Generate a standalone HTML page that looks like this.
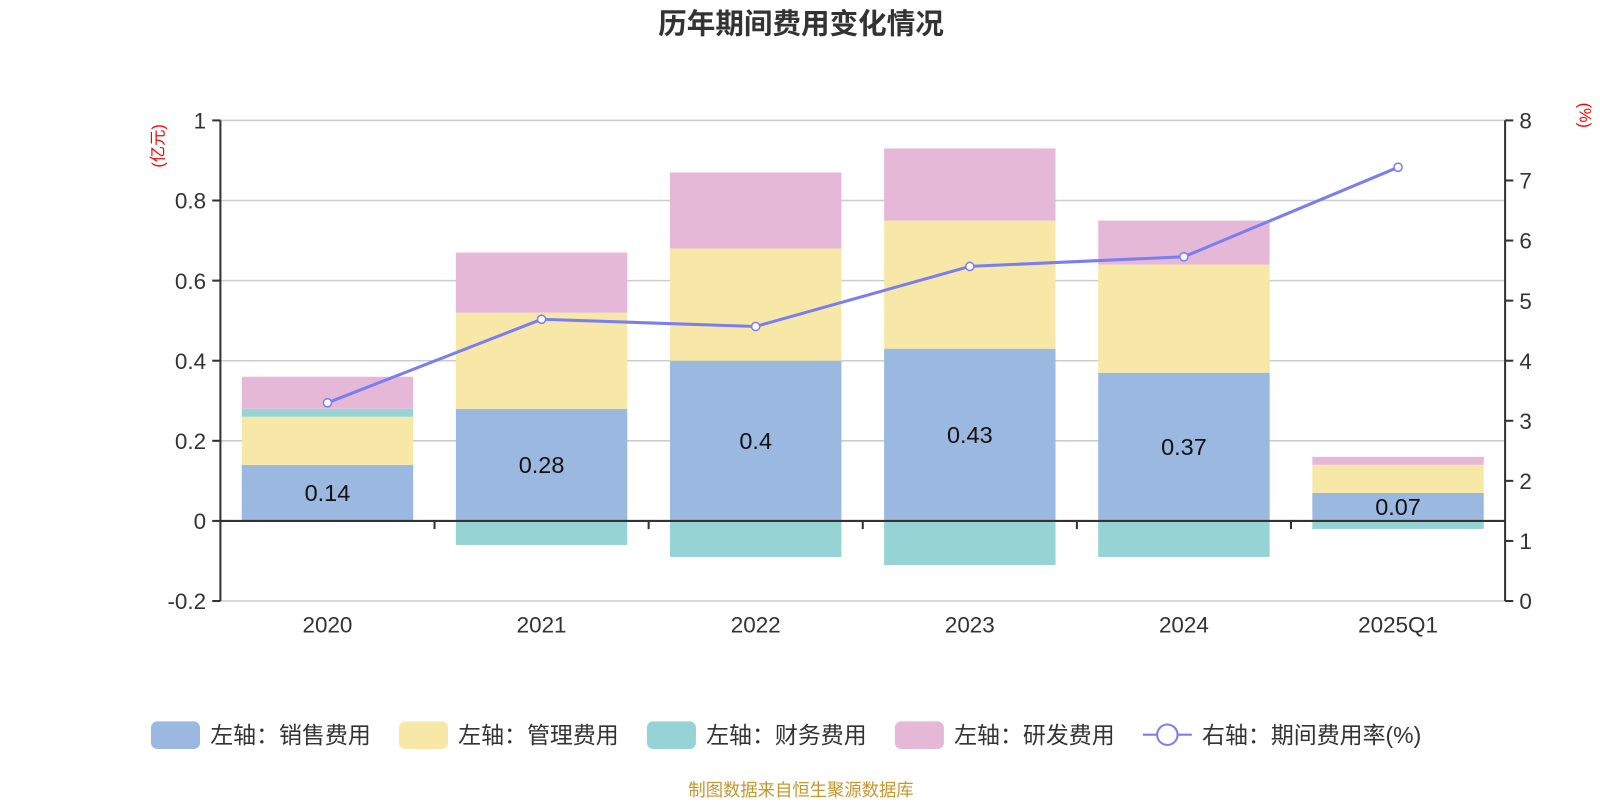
<!DOCTYPE html>
<html><head><meta charset="utf-8"><style>
body{margin:0;background:#fff;font-family:"Liberation Sans","Noto Sans CJK SC",sans-serif}
</style></head><body>
<svg id="c" width="1600" height="800" viewBox="0 0 1568 784" xmlns="http://www.w3.org/2000/svg">
<text x="785" y="33" text-anchor="middle" font-size="28" font-weight="bold" fill="#333" font-family="Liberation Sans,Noto Sans CJK SC,sans-serif">历年期间费用变化情况</text>
<text transform="translate(160,143) rotate(-90)" text-anchor="middle" font-size="16" fill="red" font-family="Liberation Sans,Noto Sans CJK SC,sans-serif">(亿元)</text>
<text transform="translate(1548,113) rotate(90)" text-anchor="middle" font-size="16" fill="red" font-family="Liberation Sans,Noto Sans CJK SC,sans-serif">(%)</text>
<g id="grid"></g><g id="bars"></g><g id="axes"></g><g id="line"></g>
<g id="legend" font-size="22.5" fill="#333" font-family="Liberation Sans,Noto Sans CJK SC,sans-serif"></g>
<text x="785" y="780" text-anchor="middle" font-size="17" fill="#c8962a" font-family="Liberation Sans,Noto Sans CJK SC,sans-serif">制图数据来自恒生聚源数据库</text>
</svg>
<script>
const categories=["2020","2021","2022","2023","2024","2025Q1"];
const sales=[0.14,0.28,0.40,0.43,0.37,0.07];
const admin=[0.12,0.24,0.28,0.32,0.27,0.07];
const finance=[0.02,-0.06,-0.09,-0.11,-0.09,-0.02];
const rnd=[0.08,0.15,0.19,0.18,0.11,0.02];
const rate=[3.30,4.69,4.57,5.57,5.73,7.22];
const leftTicks=[-0.2,0,0.2,0.4,0.6,0.8,1];
const rightTicks=[0,1,2,3,4,5,6,7,8];
const salesLabels=["0.14","0.28","0.4","0.43","0.37","0.07"];
const L=216,R=1475,T=118,B=589;
const yL=v=>B-(v+0.2)/1.2*(B-T);
const yR=v=>B-v/8*(B-T);
const bw=(R-L)/categories.length;
const xc=i=>L+bw*(i+0.5);
const NS="http://www.w3.org/2000/svg";
function mk(p,tag,a,txt){const e=document.createElementNS(NS,tag);for(const k in a)e.setAttribute(k,a[k]);if(txt!==undefined)e.textContent=txt;document.getElementById(p).appendChild(e);return e;}
leftTicks.forEach(v=>{
 const g=mk('grid','line',{x1:L,x2:R,y1:yL(v),y2:yL(v),stroke:'#ccc','stroke-width':1.5});
 
 
 mk('axes','line',{x1:L-8,x2:L,y1:yL(v),y2:yL(v),stroke:'#333','stroke-width':2});
 const t=mk('axes','text',{x:L-14,y:yL(v)+8,'text-anchor':'end','font-size':22,fill:'#333'},String(v));
 
 
});
rightTicks.forEach(v=>{
 mk('axes','line',{x1:R,x2:R+8,y1:yR(v),y2:yR(v),stroke:'#333','stroke-width':2});
 const t=mk('axes','text',{x:R+14,y:yR(v)+8,'font-size':22,fill:'#333'},String(v));
 
 
});
const cols={sales:'#9bb8e0',admin:'#f8e8a8',finance:'#96d3d5',rnd:'#e6b8d8'};
const w=168;
categories.forEach((c,i)=>{
 let pos=0,neg=0;
 [['sales',sales],['admin',admin],['finance',finance],['rnd',rnd]].forEach(([k,arr])=>{
  const v=arr[i];let y0,y1;
  if(v>=0){y0=pos;y1=pos+v;pos=y1;}else{y0=neg;y1=neg+v;neg=y1;}
  const r=mk('bars','rect',{x:xc(i)-w/2,y:Math.min(yL(y0),yL(y1)),width:w,height:Math.abs(yL(y0)-yL(y1)),fill:cols[k]});
  
  
 });
 const t=mk('bars','text',{x:xc(i),y:yL(sales[i]/2)+8,'text-anchor':'middle','font-size':23,fill:'#111'},salesLabels[i]);
 
 
 const xl=mk('axes','text',{x:xc(i),y:620,'text-anchor':'middle','font-size':22,fill:'#333'},c);
 
 
 if(i>0)mk('axes','line',{x1:L+bw*i,x2:L+bw*i,y1:yL(0),y2:yL(0)+8,stroke:'#333','stroke-width':2});
});
mk('axes','line',{x1:L,x2:R,y1:yL(0),y2:yL(0),stroke:'#333','stroke-width':2});
mk('axes','line',{x1:L,x2:L,y1:T,y2:B,stroke:'#333','stroke-width':2});
mk('axes','line',{x1:R,x2:R,y1:T,y2:B,stroke:'#333','stroke-width':2});
const pl=mk('line','polyline',{points:rate.map((v,i)=>xc(i)+','+yR(v)).join(' '),fill:'none',stroke:'#7b7ef0','stroke-width':3});


rate.forEach((v,i)=>{
 const p=mk('line','circle',{cx:xc(i),cy:yR(v),r:4,fill:'#fff',stroke:'#7b7ef0','stroke-width':1.5});
 
 
});
const leg=[['左轴：销售费用',cols.sales,148],['左轴：管理费用',cols.admin,391],['左轴：财务费用',cols.finance,634],['左轴：研发费用',cols.rnd,877]];
leg.forEach(([t,c,x])=>{
 const r=mk('legend','rect',{x:x,y:707,width:48,height:27,rx:6,fill:c});
 
 
 const tx=mk('legend','text',{x:x+58,y:728},t);
 
 
});
mk('legend','line',{x1:1120,x2:1168,y1:720,y2:720,stroke:'#7b7ef0','stroke-width':2});
mk('legend','circle',{cx:1144,cy:720,r:10,fill:'#fff',stroke:'#7b7ef0','stroke-width':2});
const lt=mk('legend','text',{x:1178,y:728},'右轴：期间费用率(%)');


</script>
</body></html>
